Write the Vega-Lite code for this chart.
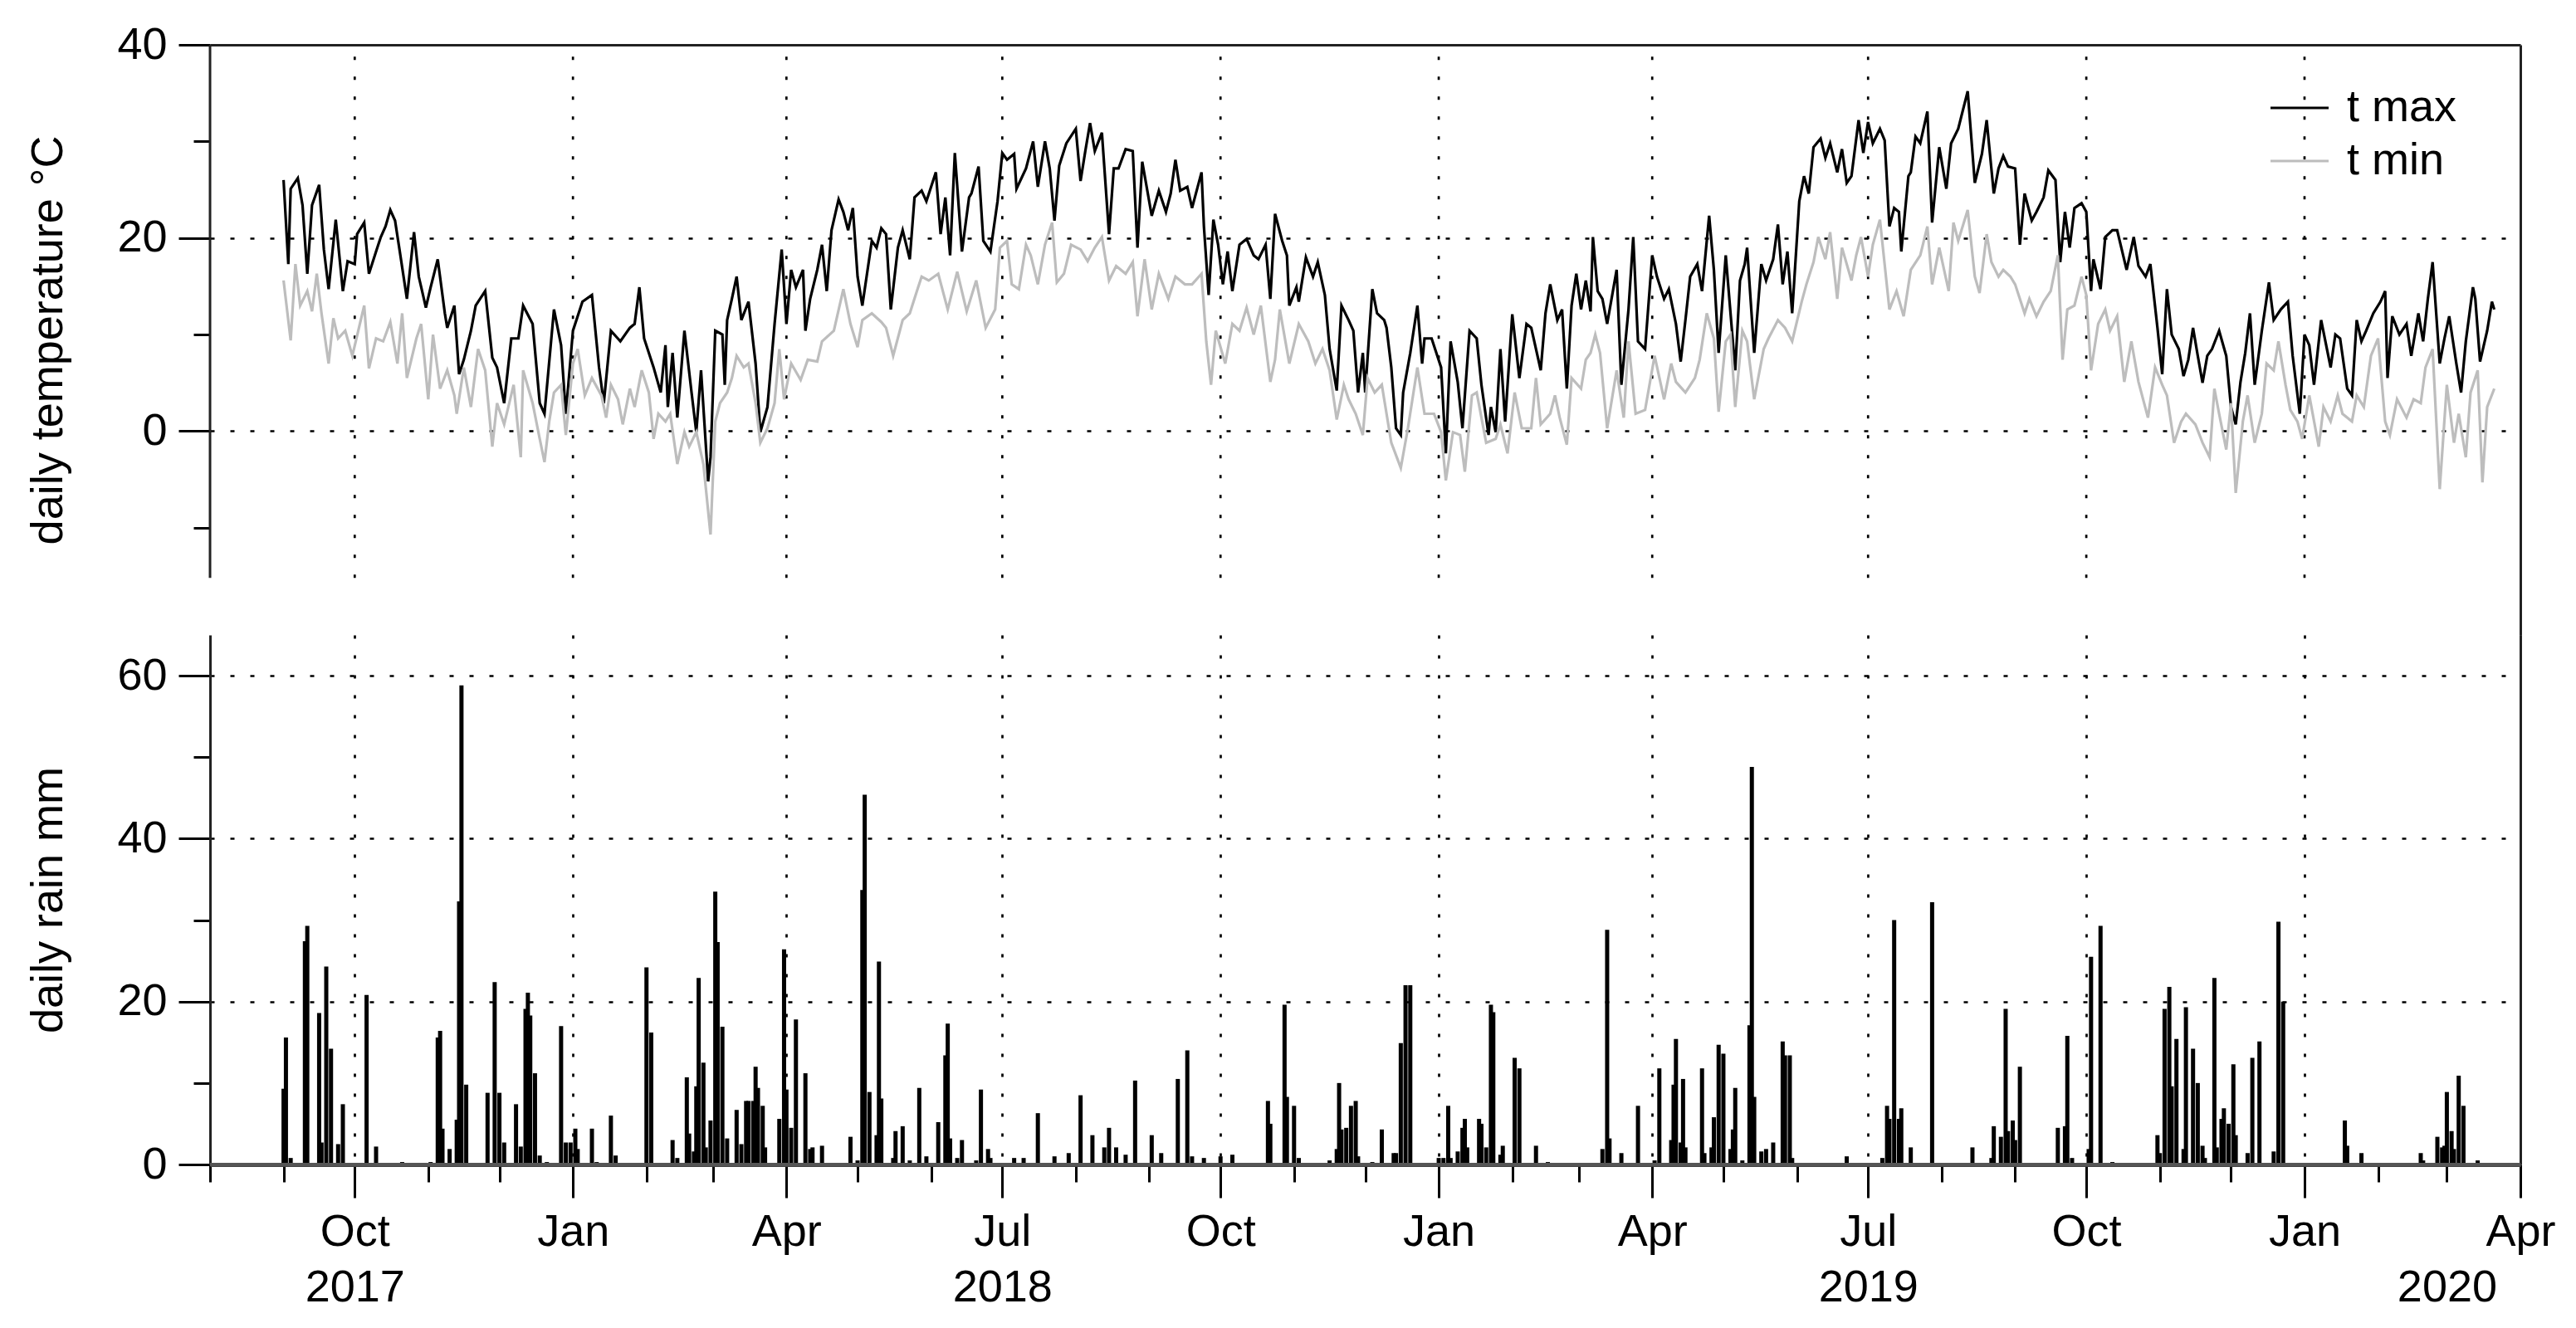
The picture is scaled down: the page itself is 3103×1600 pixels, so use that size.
{
  "$schema": "https://vega.github.io/schema/vega-lite/v6.json",
  "padding": {"left": 31, "top": 27, "right": 5, "bottom": 5},
  "config": {
    "font": "Liberation Sans",
    "view": {"stroke": null},
    "axis": {"labelFont": "Liberation Sans", "titleFont": "Liberation Sans", "labelColor": "#000", "titleColor": "#000", "titleFontWeight": "normal"}
  },
  "spacing": 0,
  "datasets": {
    "quarters": [
      {"d": "2017-10-01"}, {"d": "2018-01-01"}, {"d": "2018-04-01"}, {"d": "2018-07-01"}, {"d": "2018-10-01"},
      {"d": "2019-01-01"}, {"d": "2019-04-01"}, {"d": "2019-07-01"}, {"d": "2019-10-01"}, {"d": "2020-01-01"}
    ],
    "temps": [
      {"d":"2017-09-01","s":"t max","t":26.0},{"d":"2017-09-03","s":"t max","t":17.3},{"d":"2017-09-04","s":"t max","t":25.1},{"d":"2017-09-07","s":"t max","t":26.2},{"d":"2017-09-09","s":"t max","t":23.4},{"d":"2017-09-11","s":"t max","t":16.3},{"d":"2017-09-13","s":"t max","t":23.4},{"d":"2017-09-16","s":"t max","t":25.5},{"d":"2017-09-18","s":"t max","t":18.8},{"d":"2017-09-20","s":"t max","t":14.7},{"d":"2017-09-23","s":"t max","t":21.9},{"d":"2017-09-26","s":"t max","t":14.5},{"d":"2017-09-28","s":"t max","t":17.6},
      {"d":"2017-10-01","s":"t max","t":17.3},{"d":"2017-10-02","s":"t max","t":20.4},{"d":"2017-10-05","s":"t max","t":21.6},{"d":"2017-10-07","s":"t max","t":16.3},{"d":"2017-10-10","s":"t max","t":18.6},{"d":"2017-10-12","s":"t max","t":20.1},{"d":"2017-10-14","s":"t max","t":21.2},{"d":"2017-10-16","s":"t max","t":22.9},{"d":"2017-10-18","s":"t max","t":21.8},{"d":"2017-10-20","s":"t max","t":18.6},{"d":"2017-10-23","s":"t max","t":13.7},{"d":"2017-10-26","s":"t max","t":20.6},{"d":"2017-10-28","s":"t max","t":16.0},{"d":"2017-10-31","s":"t max","t":12.8},
      {"d":"2017-11-02","s":"t max","t":14.9},{"d":"2017-11-05","s":"t max","t":17.8},{"d":"2017-11-08","s":"t max","t":12.2},{"d":"2017-11-09","s":"t max","t":10.7},{"d":"2017-11-12","s":"t max","t":13.0},{"d":"2017-11-14","s":"t max","t":5.9},{"d":"2017-11-16","s":"t max","t":7.4},{"d":"2017-11-19","s":"t max","t":10.4},{"d":"2017-11-21","s":"t max","t":13.0},{"d":"2017-11-25","s":"t max","t":14.5},{"d":"2017-11-28","s":"t max","t":7.6},{"d":"2017-11-30","s":"t max","t":6.6},
      {"d":"2017-12-03","s":"t max","t":2.9},{"d":"2017-12-06","s":"t max","t":9.6},{"d":"2017-12-09","s":"t max","t":9.6},{"d":"2017-12-11","s":"t max","t":13.0},{"d":"2017-12-15","s":"t max","t":11.1},{"d":"2017-12-18","s":"t max","t":2.9},{"d":"2017-12-20","s":"t max","t":1.8},{"d":"2017-12-24","s":"t max","t":12.6},{"d":"2017-12-27","s":"t max","t":8.9},{"d":"2017-12-29","s":"t max","t":1.8},
      {"d":"2018-01-01","s":"t max","t":10.4},{"d":"2018-01-05","s":"t max","t":13.4},{"d":"2018-01-09","s":"t max","t":14.1},{"d":"2018-01-12","s":"t max","t":6.6},{"d":"2018-01-14","s":"t max","t":2.9},{"d":"2018-01-17","s":"t max","t":10.4},{"d":"2018-01-21","s":"t max","t":9.3},{"d":"2018-01-25","s":"t max","t":10.7},{"d":"2018-01-27","s":"t max","t":11.1},{"d":"2018-01-29","s":"t max","t":14.9},{"d":"2018-01-31","s":"t max","t":9.6},
      {"d":"2018-02-04","s":"t max","t":6.6},{"d":"2018-02-07","s":"t max","t":4.0},{"d":"2018-02-09","s":"t max","t":8.9},{"d":"2018-02-10","s":"t max","t":2.5},{"d":"2018-02-12","s":"t max","t":8.1},{"d":"2018-02-14","s":"t max","t":1.4},{"d":"2018-02-17","s":"t max","t":10.4},{"d":"2018-02-20","s":"t max","t":4.0},{"d":"2018-02-22","s":"t max","t":-0.1},{"d":"2018-02-24","s":"t max","t":6.3},{"d":"2018-02-27","s":"t max","t":-5.2},{"d":"2018-02-28","s":"t max","t":-2.7},
      {"d":"2018-03-02","s":"t max","t":10.4},{"d":"2018-03-05","s":"t max","t":10.0},{"d":"2018-03-06","s":"t max","t":4.8},{"d":"2018-03-07","s":"t max","t":11.5},{"d":"2018-03-09","s":"t max","t":13.7},{"d":"2018-03-11","s":"t max","t":16.0},{"d":"2018-03-13","s":"t max","t":11.5},{"d":"2018-03-16","s":"t max","t":13.4},{"d":"2018-03-19","s":"t max","t":7.0},{"d":"2018-03-21","s":"t max","t":-0.1},{"d":"2018-03-24","s":"t max","t":2.5},{"d":"2018-03-27","s":"t max","t":11.1},{"d":"2018-03-30","s":"t max","t":18.8},
      {"d":"2018-04-01","s":"t max","t":11.1},{"d":"2018-04-03","s":"t max","t":16.7},{"d":"2018-04-05","s":"t max","t":14.9},{"d":"2018-04-08","s":"t max","t":16.7},{"d":"2018-04-09","s":"t max","t":10.4},{"d":"2018-04-11","s":"t max","t":13.7},{"d":"2018-04-14","s":"t max","t":16.7},{"d":"2018-04-16","s":"t max","t":19.3},{"d":"2018-04-18","s":"t max","t":14.5},{"d":"2018-04-20","s":"t max","t":20.8},{"d":"2018-04-23","s":"t max","t":24.0},{"d":"2018-04-25","s":"t max","t":22.7},{"d":"2018-04-27","s":"t max","t":20.8},{"d":"2018-04-29","s":"t max","t":23.1},
      {"d":"2018-05-01","s":"t max","t":16.0},{"d":"2018-05-03","s":"t max","t":13.0},{"d":"2018-05-07","s":"t max","t":19.7},{"d":"2018-05-09","s":"t max","t":19.0},{"d":"2018-05-11","s":"t max","t":21.0},{"d":"2018-05-13","s":"t max","t":20.4},{"d":"2018-05-15","s":"t max","t":12.6},{"d":"2018-05-18","s":"t max","t":19.0},{"d":"2018-05-20","s":"t max","t":20.8},{"d":"2018-05-23","s":"t max","t":17.8},{"d":"2018-05-25","s":"t max","t":24.2},{"d":"2018-05-28","s":"t max","t":24.9},{"d":"2018-05-30","s":"t max","t":23.8},
      {"d":"2018-06-01","s":"t max","t":25.3},{"d":"2018-06-03","s":"t max","t":26.8},{"d":"2018-06-05","s":"t max","t":20.4},{"d":"2018-06-07","s":"t max","t":24.2},{"d":"2018-06-09","s":"t max","t":18.2},{"d":"2018-06-11","s":"t max","t":28.8},{"d":"2018-06-14","s":"t max","t":18.6},{"d":"2018-06-17","s":"t max","t":24.2},{"d":"2018-06-18","s":"t max","t":24.6},{"d":"2018-06-21","s":"t max","t":27.4},{"d":"2018-06-23","s":"t max","t":19.7},{"d":"2018-06-26","s":"t max","t":18.6},{"d":"2018-06-29","s":"t max","t":23.8},
      {"d":"2018-07-01","s":"t max","t":28.8},{"d":"2018-07-03","s":"t max","t":28.1},{"d":"2018-07-06","s":"t max","t":28.7},{"d":"2018-07-07","s":"t max","t":25.1},{"d":"2018-07-11","s":"t max","t":27.2},{"d":"2018-07-14","s":"t max","t":30.0},{"d":"2018-07-16","s":"t max","t":25.3},{"d":"2018-07-19","s":"t max","t":30.0},{"d":"2018-07-21","s":"t max","t":27.2},{"d":"2018-07-23","s":"t max","t":21.8},{"d":"2018-07-25","s":"t max","t":27.5},{"d":"2018-07-28","s":"t max","t":29.8},
      {"d":"2018-08-01","s":"t max","t":31.3},{"d":"2018-08-03","s":"t max","t":25.9},{"d":"2018-08-05","s":"t max","t":29.0},{"d":"2018-08-07","s":"t max","t":31.9},{"d":"2018-08-09","s":"t max","t":29.0},{"d":"2018-08-12","s":"t max","t":30.9},{"d":"2018-08-15","s":"t max","t":20.4},{"d":"2018-08-17","s":"t max","t":27.2},{"d":"2018-08-19","s":"t max","t":27.2},{"d":"2018-08-22","s":"t max","t":29.2},{"d":"2018-08-25","s":"t max","t":29.0},{"d":"2018-08-27","s":"t max","t":19.0},{"d":"2018-08-29","s":"t max","t":27.9},
      {"d":"2018-09-02","s":"t max","t":22.3},{"d":"2018-09-05","s":"t max","t":24.9},{"d":"2018-09-08","s":"t max","t":22.7},{"d":"2018-09-10","s":"t max","t":24.6},{"d":"2018-09-12","s":"t max","t":28.1},{"d":"2018-09-14","s":"t max","t":24.9},{"d":"2018-09-17","s":"t max","t":25.3},{"d":"2018-09-19","s":"t max","t":23.1},{"d":"2018-09-23","s":"t max","t":26.8},{"d":"2018-09-24","s":"t max","t":21.2},{"d":"2018-09-26","s":"t max","t":14.1},{"d":"2018-09-28","s":"t max","t":21.9},{"d":"2018-09-30","s":"t max","t":19.3},
      {"d":"2018-10-02","s":"t max","t":15.2},{"d":"2018-10-04","s":"t max","t":18.6},{"d":"2018-10-06","s":"t max","t":14.5},{"d":"2018-10-09","s":"t max","t":19.3},{"d":"2018-10-12","s":"t max","t":19.9},{"d":"2018-10-15","s":"t max","t":18.2},{"d":"2018-10-17","s":"t max","t":17.8},{"d":"2018-10-20","s":"t max","t":19.3},{"d":"2018-10-22","s":"t max","t":13.7},{"d":"2018-10-24","s":"t max","t":22.5},{"d":"2018-10-27","s":"t max","t":19.7},{"d":"2018-10-29","s":"t max","t":18.2},{"d":"2018-10-30","s":"t max","t":13.0},
      {"d":"2018-11-02","s":"t max","t":14.9},{"d":"2018-11-03","s":"t max","t":13.4},{"d":"2018-11-06","s":"t max","t":18.0},{"d":"2018-11-09","s":"t max","t":16.0},{"d":"2018-11-11","s":"t max","t":17.5},{"d":"2018-11-14","s":"t max","t":14.1},{"d":"2018-11-16","s":"t max","t":8.5},{"d":"2018-11-19","s":"t max","t":4.2},{"d":"2018-11-21","s":"t max","t":13.0},{"d":"2018-11-24","s":"t max","t":11.5},{"d":"2018-11-26","s":"t max","t":10.4},{"d":"2018-11-28","s":"t max","t":4.0},{"d":"2018-11-30","s":"t max","t":8.1},
      {"d":"2018-12-01","s":"t max","t":4.0},{"d":"2018-12-04","s":"t max","t":14.7},{"d":"2018-12-06","s":"t max","t":12.2},{"d":"2018-12-09","s":"t max","t":11.5},{"d":"2018-12-10","s":"t max","t":10.7},{"d":"2018-12-12","s":"t max","t":6.6},{"d":"2018-12-14","s":"t max","t":0.3},{"d":"2018-12-16","s":"t max","t":-0.4},{"d":"2018-12-17","s":"t max","t":4.0},{"d":"2018-12-20","s":"t max","t":8.1},{"d":"2018-12-23","s":"t max","t":13.0},{"d":"2018-12-25","s":"t max","t":7.0},{"d":"2018-12-26","s":"t max","t":9.6},{"d":"2018-12-29","s":"t max","t":9.6},{"d":"2018-12-31","s":"t max","t":8.1},
      {"d":"2019-01-02","s":"t max","t":6.6},{"d":"2019-01-04","s":"t max","t":-2.3},{"d":"2019-01-06","s":"t max","t":9.3},{"d":"2019-01-09","s":"t max","t":5.1},{"d":"2019-01-11","s":"t max","t":0.3},{"d":"2019-01-14","s":"t max","t":10.4},{"d":"2019-01-17","s":"t max","t":9.6},{"d":"2019-01-19","s":"t max","t":4.8},{"d":"2019-01-22","s":"t max","t":-0.4},{"d":"2019-01-23","s":"t max","t":2.5},{"d":"2019-01-25","s":"t max","t":-0.1},{"d":"2019-01-27","s":"t max","t":8.5},{"d":"2019-01-29","s":"t max","t":1.0},
      {"d":"2019-02-01","s":"t max","t":12.1},{"d":"2019-02-04","s":"t max","t":5.5},{"d":"2019-02-07","s":"t max","t":11.1},{"d":"2019-02-09","s":"t max","t":10.7},{"d":"2019-02-13","s":"t max","t":6.3},{"d":"2019-02-15","s":"t max","t":12.2},{"d":"2019-02-17","s":"t max","t":15.2},{"d":"2019-02-20","s":"t max","t":11.5},{"d":"2019-02-22","s":"t max","t":12.6},{"d":"2019-02-24","s":"t max","t":4.4},{"d":"2019-02-26","s":"t max","t":13.0},{"d":"2019-02-28","s":"t max","t":16.3},
      {"d":"2019-03-02","s":"t max","t":12.6},{"d":"2019-03-04","s":"t max","t":15.6},{"d":"2019-03-06","s":"t max","t":12.4},{"d":"2019-03-07","s":"t max","t":20.1},{"d":"2019-03-09","s":"t max","t":14.5},{"d":"2019-03-11","s":"t max","t":13.7},{"d":"2019-03-13","s":"t max","t":11.1},{"d":"2019-03-17","s":"t max","t":16.7},{"d":"2019-03-19","s":"t max","t":4.8},{"d":"2019-03-22","s":"t max","t":12.6},{"d":"2019-03-24","s":"t max","t":20.1},{"d":"2019-03-26","s":"t max","t":9.3},{"d":"2019-03-29","s":"t max","t":8.5},
      {"d":"2019-04-01","s":"t max","t":18.2},{"d":"2019-04-03","s":"t max","t":16.0},{"d":"2019-04-06","s":"t max","t":13.7},{"d":"2019-04-08","s":"t max","t":14.7},{"d":"2019-04-11","s":"t max","t":11.1},{"d":"2019-04-13","s":"t max","t":7.2},{"d":"2019-04-15","s":"t max","t":11.5},{"d":"2019-04-17","s":"t max","t":16.0},{"d":"2019-04-20","s":"t max","t":17.3},{"d":"2019-04-22","s":"t max","t":14.5},{"d":"2019-04-25","s":"t max","t":22.3},{"d":"2019-04-27","s":"t max","t":16.7},{"d":"2019-04-29","s":"t max","t":8.1},
      {"d":"2019-05-02","s":"t max","t":18.2},{"d":"2019-05-06","s":"t max","t":6.3},{"d":"2019-05-08","s":"t max","t":15.6},{"d":"2019-05-10","s":"t max","t":17.3},{"d":"2019-05-11","s":"t max","t":19.0},{"d":"2019-05-14","s":"t max","t":8.1},{"d":"2019-05-17","s":"t max","t":17.3},{"d":"2019-05-19","s":"t max","t":15.6},{"d":"2019-05-22","s":"t max","t":17.8},{"d":"2019-05-24","s":"t max","t":21.4},{"d":"2019-05-26","s":"t max","t":15.2},{"d":"2019-05-28","s":"t max","t":18.6},{"d":"2019-05-30","s":"t max","t":12.2},
      {"d":"2019-06-02","s":"t max","t":23.8},{"d":"2019-06-04","s":"t max","t":26.4},{"d":"2019-06-06","s":"t max","t":24.6},{"d":"2019-06-08","s":"t max","t":29.4},{"d":"2019-06-11","s":"t max","t":30.3},{"d":"2019-06-13","s":"t max","t":28.3},{"d":"2019-06-15","s":"t max","t":29.8},{"d":"2019-06-18","s":"t max","t":26.8},{"d":"2019-06-20","s":"t max","t":29.2},{"d":"2019-06-22","s":"t max","t":25.7},{"d":"2019-06-24","s":"t max","t":26.4},{"d":"2019-06-27","s":"t max","t":32.2},{"d":"2019-06-29","s":"t max","t":28.8},
      {"d":"2019-07-01","s":"t max","t":32.0},{"d":"2019-07-03","s":"t max","t":29.8},{"d":"2019-07-06","s":"t max","t":31.3},{"d":"2019-07-08","s":"t max","t":30.1},{"d":"2019-07-10","s":"t max","t":21.2},{"d":"2019-07-12","s":"t max","t":23.1},{"d":"2019-07-14","s":"t max","t":22.7},{"d":"2019-07-15","s":"t max","t":18.6},{"d":"2019-07-18","s":"t max","t":26.4},{"d":"2019-07-19","s":"t max","t":26.8},{"d":"2019-07-21","s":"t max","t":30.5},{"d":"2019-07-23","s":"t max","t":29.8},{"d":"2019-07-26","s":"t max","t":33.1},{"d":"2019-07-28","s":"t max","t":21.6},{"d":"2019-07-31","s":"t max","t":29.4},
      {"d":"2019-08-03","s":"t max","t":25.1},{"d":"2019-08-05","s":"t max","t":29.8},{"d":"2019-08-08","s":"t max","t":31.3},{"d":"2019-08-12","s":"t max","t":35.2},{"d":"2019-08-15","s":"t max","t":25.7},{"d":"2019-08-18","s":"t max","t":28.7},{"d":"2019-08-20","s":"t max","t":32.2},{"d":"2019-08-23","s":"t max","t":24.6},{"d":"2019-08-25","s":"t max","t":27.2},{"d":"2019-08-27","s":"t max","t":28.5},{"d":"2019-08-29","s":"t max","t":27.4},
      {"d":"2019-09-01","s":"t max","t":27.2},{"d":"2019-09-03","s":"t max","t":19.3},{"d":"2019-09-05","s":"t max","t":24.6},{"d":"2019-09-08","s":"t max","t":21.8},{"d":"2019-09-10","s":"t max","t":22.7},{"d":"2019-09-13","s":"t max","t":24.2},{"d":"2019-09-15","s":"t max","t":27.0},{"d":"2019-09-18","s":"t max","t":26.0},{"d":"2019-09-20","s":"t max","t":17.5},{"d":"2019-09-22","s":"t max","t":22.7},{"d":"2019-09-24","s":"t max","t":19.0},{"d":"2019-09-26","s":"t max","t":23.1},{"d":"2019-09-29","s":"t max","t":23.6},
      {"d":"2019-10-01","s":"t max","t":22.7},{"d":"2019-10-03","s":"t max","t":14.5},{"d":"2019-10-04","s":"t max","t":17.8},{"d":"2019-10-07","s":"t max","t":14.7},{"d":"2019-10-09","s":"t max","t":20.1},{"d":"2019-10-12","s":"t max","t":20.8},{"d":"2019-10-14","s":"t max","t":20.8},{"d":"2019-10-18","s":"t max","t":16.7},{"d":"2019-10-21","s":"t max","t":20.1},{"d":"2019-10-23","s":"t max","t":17.1},{"d":"2019-10-26","s":"t max","t":16.0},{"d":"2019-10-28","s":"t max","t":17.3},{"d":"2019-10-31","s":"t max","t":10.7},
      {"d":"2019-11-02","s":"t max","t":5.9},{"d":"2019-11-04","s":"t max","t":14.7},{"d":"2019-11-06","s":"t max","t":10.0},{"d":"2019-11-09","s":"t max","t":8.5},{"d":"2019-11-11","s":"t max","t":5.7},{"d":"2019-11-13","s":"t max","t":7.4},{"d":"2019-11-15","s":"t max","t":10.7},{"d":"2019-11-17","s":"t max","t":7.8},{"d":"2019-11-19","s":"t max","t":5.0},{"d":"2019-11-21","s":"t max","t":7.8},{"d":"2019-11-23","s":"t max","t":8.5},{"d":"2019-11-26","s":"t max","t":10.4},{"d":"2019-11-29","s":"t max","t":7.8},
      {"d":"2019-12-01","s":"t max","t":2.5},{"d":"2019-12-03","s":"t max","t":0.7},{"d":"2019-12-05","s":"t max","t":5.1},{"d":"2019-12-07","s":"t max","t":8.1},{"d":"2019-12-09","s":"t max","t":12.2},{"d":"2019-12-11","s":"t max","t":4.8},{"d":"2019-12-14","s":"t max","t":10.4},{"d":"2019-12-17","s":"t max","t":15.4},{"d":"2019-12-19","s":"t max","t":11.5},{"d":"2019-12-22","s":"t max","t":12.6},{"d":"2019-12-25","s":"t max","t":13.4},{"d":"2019-12-27","s":"t max","t":7.8},{"d":"2019-12-30","s":"t max","t":1.8},
      {"d":"2020-01-01","s":"t max","t":10.0},{"d":"2020-01-03","s":"t max","t":8.9},{"d":"2020-01-05","s":"t max","t":4.8},{"d":"2020-01-08","s":"t max","t":11.5},{"d":"2020-01-12","s":"t max","t":6.6},{"d":"2020-01-14","s":"t max","t":10.0},{"d":"2020-01-16","s":"t max","t":9.6},{"d":"2020-01-19","s":"t max","t":4.4},{"d":"2020-01-21","s":"t max","t":3.7},{"d":"2020-01-23","s":"t max","t":11.5},{"d":"2020-01-25","s":"t max","t":9.3},{"d":"2020-01-27","s":"t max","t":10.4},{"d":"2020-01-30","s":"t max","t":12.2},
      {"d":"2020-02-02","s":"t max","t":13.4},{"d":"2020-02-04","s":"t max","t":14.5},{"d":"2020-02-05","s":"t max","t":5.5},{"d":"2020-02-07","s":"t max","t":11.9},{"d":"2020-02-10","s":"t max","t":10.0},{"d":"2020-02-13","s":"t max","t":11.1},{"d":"2020-02-15","s":"t max","t":7.8},{"d":"2020-02-18","s":"t max","t":12.2},{"d":"2020-02-20","s":"t max","t":9.3},{"d":"2020-02-22","s":"t max","t":13.7},{"d":"2020-02-24","s":"t max","t":17.5},{"d":"2020-02-27","s":"t max","t":7.0},{"d":"2020-02-29","s":"t max","t":9.6},
      {"d":"2020-03-02","s":"t max","t":11.9},{"d":"2020-03-05","s":"t max","t":7.0},{"d":"2020-03-07","s":"t max","t":4.0},{"d":"2020-03-09","s":"t max","t":9.3},{"d":"2020-03-12","s":"t max","t":14.9},{"d":"2020-03-13","s":"t max","t":13.7},{"d":"2020-03-15","s":"t max","t":7.2},{"d":"2020-03-18","s":"t max","t":10.4},{"d":"2020-03-20","s":"t max","t":13.4},{"d":"2020-03-21","s":"t max","t":12.6},

      {"d":"2017-09-01","s":"t min","t":15.6},{"d":"2017-09-04","s":"t min","t":9.4},{"d":"2017-09-06","s":"t min","t":17.3},{"d":"2017-09-08","s":"t min","t":13.0},{"d":"2017-09-11","s":"t min","t":14.5},{"d":"2017-09-13","s":"t min","t":12.4},{"d":"2017-09-15","s":"t min","t":16.3},{"d":"2017-09-17","s":"t min","t":12.2},{"d":"2017-09-20","s":"t min","t":7.0},{"d":"2017-09-22","s":"t min","t":11.7},{"d":"2017-09-24","s":"t min","t":9.6},{"d":"2017-09-27","s":"t min","t":10.4},{"d":"2017-09-30","s":"t min","t":7.8},
      {"d":"2017-10-05","s":"t min","t":13.0},{"d":"2017-10-07","s":"t min","t":6.5},{"d":"2017-10-10","s":"t min","t":9.6},{"d":"2017-10-13","s":"t min","t":9.3},{"d":"2017-10-16","s":"t min","t":11.3},{"d":"2017-10-19","s":"t min","t":7.0},{"d":"2017-10-21","s":"t min","t":12.2},{"d":"2017-10-23","s":"t min","t":5.5},{"d":"2017-10-27","s":"t min","t":9.6},{"d":"2017-10-29","s":"t min","t":11.1},
      {"d":"2017-11-01","s":"t min","t":3.3},{"d":"2017-11-03","s":"t min","t":10.0},{"d":"2017-11-06","s":"t min","t":4.4},{"d":"2017-11-09","s":"t min","t":6.3},{"d":"2017-11-12","s":"t min","t":3.7},{"d":"2017-11-13","s":"t min","t":1.8},{"d":"2017-11-16","s":"t min","t":6.6},{"d":"2017-11-19","s":"t min","t":2.5},{"d":"2017-11-22","s":"t min","t":8.5},{"d":"2017-11-25","s":"t min","t":6.3},{"d":"2017-11-28","s":"t min","t":-1.6},{"d":"2017-11-30","s":"t min","t":2.9},
      {"d":"2017-12-03","s":"t min","t":0.7},{"d":"2017-12-07","s":"t min","t":4.8},{"d":"2017-12-10","s":"t min","t":-2.7},{"d":"2017-12-11","s":"t min","t":6.3},{"d":"2017-12-15","s":"t min","t":2.9},{"d":"2017-12-18","s":"t min","t":-0.8},{"d":"2017-12-20","s":"t min","t":-3.2},{"d":"2017-12-22","s":"t min","t":1.0},{"d":"2017-12-24","s":"t min","t":4.0},{"d":"2017-12-27","s":"t min","t":4.8},{"d":"2017-12-29","s":"t min","t":-0.4},
      {"d":"2018-01-01","s":"t min","t":7.0},{"d":"2018-01-03","s":"t min","t":8.5},{"d":"2018-01-06","s":"t min","t":3.7},{"d":"2018-01-09","s":"t min","t":5.5},{"d":"2018-01-13","s":"t min","t":3.7},{"d":"2018-01-15","s":"t min","t":1.4},{"d":"2018-01-17","s":"t min","t":4.8},{"d":"2018-01-20","s":"t min","t":3.3},{"d":"2018-01-22","s":"t min","t":0.7},{"d":"2018-01-25","s":"t min","t":4.4},{"d":"2018-01-27","s":"t min","t":2.5},{"d":"2018-01-30","s":"t min","t":6.3},
      {"d":"2018-02-02","s":"t min","t":4.0},{"d":"2018-02-04","s":"t min","t":-0.8},{"d":"2018-02-06","s":"t min","t":1.8},{"d":"2018-02-09","s":"t min","t":1.0},{"d":"2018-02-11","s":"t min","t":1.8},{"d":"2018-02-14","s":"t min","t":-3.4},{"d":"2018-02-17","s":"t min","t":-0.1},{"d":"2018-02-19","s":"t min","t":-1.6},{"d":"2018-02-22","s":"t min","t":-0.1},{"d":"2018-02-25","s":"t min","t":-3.4},{"d":"2018-02-28","s":"t min","t":-10.7},
      {"d":"2018-03-02","s":"t min","t":1.0},{"d":"2018-03-04","s":"t min","t":2.9},{"d":"2018-03-07","s":"t min","t":4.0},{"d":"2018-03-09","s":"t min","t":5.5},{"d":"2018-03-11","s":"t min","t":7.8},{"d":"2018-03-14","s":"t min","t":6.6},{"d":"2018-03-16","s":"t min","t":7.0},{"d":"2018-03-19","s":"t min","t":2.9},{"d":"2018-03-21","s":"t min","t":-1.2},{"d":"2018-03-24","s":"t min","t":0.3},{"d":"2018-03-27","s":"t min","t":2.9},{"d":"2018-03-29","s":"t min","t":8.5},{"d":"2018-03-31","s":"t min","t":3.3},
      {"d":"2018-04-03","s":"t min","t":7.0},{"d":"2018-04-07","s":"t min","t":5.3},{"d":"2018-04-10","s":"t min","t":7.4},{"d":"2018-04-14","s":"t min","t":7.2},{"d":"2018-04-16","s":"t min","t":9.3},{"d":"2018-04-21","s":"t min","t":10.4},{"d":"2018-04-25","s":"t min","t":14.7},{"d":"2018-04-28","s":"t min","t":11.1},
      {"d":"2018-05-01","s":"t min","t":8.7},{"d":"2018-05-03","s":"t min","t":11.5},{"d":"2018-05-07","s":"t min","t":12.2},{"d":"2018-05-11","s":"t min","t":11.3},{"d":"2018-05-13","s":"t min","t":10.7},{"d":"2018-05-16","s":"t min","t":7.8},{"d":"2018-05-20","s":"t min","t":11.5},{"d":"2018-05-23","s":"t min","t":12.2},{"d":"2018-05-26","s":"t min","t":14.5},{"d":"2018-05-28","s":"t min","t":16.0},{"d":"2018-05-31","s":"t min","t":15.6},
      {"d":"2018-06-04","s":"t min","t":16.3},{"d":"2018-06-08","s":"t min","t":12.6},{"d":"2018-06-12","s":"t min","t":16.5},{"d":"2018-06-16","s":"t min","t":12.4},{"d":"2018-06-20","s":"t min","t":15.6},{"d":"2018-06-24","s":"t min","t":10.7},{"d":"2018-06-28","s":"t min","t":12.6},{"d":"2018-06-30","s":"t min","t":19.0},
      {"d":"2018-07-03","s":"t min","t":19.7},{"d":"2018-07-05","s":"t min","t":15.2},{"d":"2018-07-08","s":"t min","t":14.7},{"d":"2018-07-11","s":"t min","t":19.3},{"d":"2018-07-13","s":"t min","t":18.2},{"d":"2018-07-16","s":"t min","t":15.2},{"d":"2018-07-19","s":"t min","t":19.3},{"d":"2018-07-22","s":"t min","t":21.6},{"d":"2018-07-24","s":"t min","t":15.4},{"d":"2018-07-27","s":"t min","t":16.3},{"d":"2018-07-30","s":"t min","t":19.3},
      {"d":"2018-08-03","s":"t min","t":18.8},{"d":"2018-08-06","s":"t min","t":17.6},{"d":"2018-08-09","s":"t min","t":19.0},{"d":"2018-08-12","s":"t min","t":20.1},{"d":"2018-08-15","s":"t min","t":15.6},{"d":"2018-08-18","s":"t min","t":17.1},{"d":"2018-08-22","s":"t min","t":16.3},{"d":"2018-08-25","s":"t min","t":17.5},{"d":"2018-08-27","s":"t min","t":11.9},{"d":"2018-08-30","s":"t min","t":17.8},
      {"d":"2018-09-02","s":"t min","t":12.6},{"d":"2018-09-05","s":"t min","t":16.3},{"d":"2018-09-09","s":"t min","t":13.7},{"d":"2018-09-12","s":"t min","t":16.0},{"d":"2018-09-16","s":"t min","t":15.2},{"d":"2018-09-19","s":"t min","t":15.2},{"d":"2018-09-23","s":"t min","t":16.3},{"d":"2018-09-25","s":"t min","t":9.3},{"d":"2018-09-27","s":"t min","t":4.8},{"d":"2018-09-29","s":"t min","t":10.4},
      {"d":"2018-10-03","s":"t min","t":7.0},{"d":"2018-10-06","s":"t min","t":11.1},{"d":"2018-10-09","s":"t min","t":10.4},{"d":"2018-10-12","s":"t min","t":12.8},{"d":"2018-10-15","s":"t min","t":10.0},{"d":"2018-10-18","s":"t min","t":13.0},{"d":"2018-10-22","s":"t min","t":5.1},{"d":"2018-10-24","s":"t min","t":7.4},{"d":"2018-10-26","s":"t min","t":12.6},{"d":"2018-10-30","s":"t min","t":7.0},
      {"d":"2018-11-03","s":"t min","t":11.1},{"d":"2018-11-07","s":"t min","t":9.3},{"d":"2018-11-10","s":"t min","t":7.0},{"d":"2018-11-13","s":"t min","t":8.5},{"d":"2018-11-16","s":"t min","t":6.3},{"d":"2018-11-19","s":"t min","t":1.2},{"d":"2018-11-22","s":"t min","t":4.8},{"d":"2018-11-24","s":"t min","t":3.3},{"d":"2018-11-27","s":"t min","t":1.8},{"d":"2018-11-30","s":"t min","t":-0.4},
      {"d":"2018-12-02","s":"t min","t":5.5},{"d":"2018-12-05","s":"t min","t":4.0},{"d":"2018-12-08","s":"t min","t":4.8},{"d":"2018-12-12","s":"t min","t":-1.2},{"d":"2018-12-16","s":"t min","t":-3.8},{"d":"2018-12-19","s":"t min","t":0.3},{"d":"2018-12-23","s":"t min","t":6.6},{"d":"2018-12-26","s":"t min","t":1.8},{"d":"2018-12-30","s":"t min","t":1.8},
      {"d":"2019-01-02","s":"t min","t":-0.1},{"d":"2019-01-04","s":"t min","t":-5.1},{"d":"2019-01-07","s":"t min","t":-0.1},{"d":"2019-01-10","s":"t min","t":-0.4},{"d":"2019-01-12","s":"t min","t":-4.2},{"d":"2019-01-15","s":"t min","t":3.7},{"d":"2019-01-17","s":"t min","t":4.0},{"d":"2019-01-21","s":"t min","t":-1.2},{"d":"2019-01-25","s":"t min","t":-0.8},{"d":"2019-01-27","s":"t min","t":0.7},{"d":"2019-01-30","s":"t min","t":-2.3},
      {"d":"2019-02-02","s":"t min","t":4.0},{"d":"2019-02-05","s":"t min","t":0.3},{"d":"2019-02-09","s":"t min","t":0.3},{"d":"2019-02-11","s":"t min","t":5.5},{"d":"2019-02-13","s":"t min","t":0.7},{"d":"2019-02-17","s":"t min","t":1.8},{"d":"2019-02-19","s":"t min","t":3.7},{"d":"2019-02-21","s":"t min","t":1.4},{"d":"2019-02-24","s":"t min","t":-1.4},{"d":"2019-02-26","s":"t min","t":5.5},
      {"d":"2019-03-02","s":"t min","t":4.4},{"d":"2019-03-04","s":"t min","t":7.4},{"d":"2019-03-06","s":"t min","t":8.1},{"d":"2019-03-08","s":"t min","t":10.0},{"d":"2019-03-10","s":"t min","t":8.1},{"d":"2019-03-13","s":"t min","t":0.3},{"d":"2019-03-17","s":"t min","t":6.3},{"d":"2019-03-20","s":"t min","t":1.4},{"d":"2019-03-22","s":"t min","t":9.3},{"d":"2019-03-25","s":"t min","t":1.8},{"d":"2019-03-29","s":"t min","t":2.2},
      {"d":"2019-04-02","s":"t min","t":7.8},{"d":"2019-04-06","s":"t min","t":3.3},{"d":"2019-04-09","s":"t min","t":7.0},{"d":"2019-04-11","s":"t min","t":5.1},{"d":"2019-04-15","s":"t min","t":4.0},{"d":"2019-04-19","s":"t min","t":5.5},{"d":"2019-04-21","s":"t min","t":7.4},{"d":"2019-04-24","s":"t min","t":12.2},{"d":"2019-04-27","s":"t min","t":9.6},{"d":"2019-04-29","s":"t min","t":2.0},
      {"d":"2019-05-02","s":"t min","t":9.3},{"d":"2019-05-04","s":"t min","t":10.0},{"d":"2019-05-06","s":"t min","t":2.5},{"d":"2019-05-09","s":"t min","t":10.4},{"d":"2019-05-11","s":"t min","t":9.3},{"d":"2019-05-14","s":"t min","t":3.3},{"d":"2019-05-18","s":"t min","t":8.5},{"d":"2019-05-20","s":"t min","t":9.6},{"d":"2019-05-24","s":"t min","t":11.5},{"d":"2019-05-27","s":"t min","t":10.7},{"d":"2019-05-30","s":"t min","t":9.3},
      {"d":"2019-06-03","s":"t min","t":13.4},{"d":"2019-06-05","s":"t min","t":15.2},{"d":"2019-06-08","s":"t min","t":17.5},{"d":"2019-06-10","s":"t min","t":20.1},{"d":"2019-06-13","s":"t min","t":17.8},{"d":"2019-06-15","s":"t min","t":20.6},{"d":"2019-06-18","s":"t min","t":13.7},{"d":"2019-06-20","s":"t min","t":19.0},{"d":"2019-06-24","s":"t min","t":15.6},{"d":"2019-06-26","s":"t min","t":18.2},{"d":"2019-06-28","s":"t min","t":20.1},
      {"d":"2019-07-01","s":"t min","t":16.0},{"d":"2019-07-03","s":"t min","t":19.3},{"d":"2019-07-06","s":"t min","t":21.9},{"d":"2019-07-10","s":"t min","t":12.6},{"d":"2019-07-13","s":"t min","t":14.5},{"d":"2019-07-16","s":"t min","t":11.9},{"d":"2019-07-19","s":"t min","t":16.7},{"d":"2019-07-23","s":"t min","t":18.2},{"d":"2019-07-26","s":"t min","t":21.2},{"d":"2019-07-28","s":"t min","t":15.2},{"d":"2019-07-31","s":"t min","t":19.0},
      {"d":"2019-08-04","s":"t min","t":14.5},{"d":"2019-08-06","s":"t min","t":21.6},{"d":"2019-08-08","s":"t min","t":19.7},{"d":"2019-08-12","s":"t min","t":22.9},{"d":"2019-08-15","s":"t min","t":16.0},{"d":"2019-08-17","s":"t min","t":14.3},{"d":"2019-08-20","s":"t min","t":20.4},{"d":"2019-08-22","s":"t min","t":17.5},{"d":"2019-08-25","s":"t min","t":16.0},{"d":"2019-08-27","s":"t min","t":16.7},{"d":"2019-08-30","s":"t min","t":16.0},
      {"d":"2019-09-01","s":"t min","t":15.2},{"d":"2019-09-05","s":"t min","t":12.2},{"d":"2019-09-07","s":"t min","t":13.7},{"d":"2019-09-10","s":"t min","t":11.9},{"d":"2019-09-13","s":"t min","t":13.4},{"d":"2019-09-16","s":"t min","t":14.5},{"d":"2019-09-19","s":"t min","t":18.2},{"d":"2019-09-21","s":"t min","t":7.4},{"d":"2019-09-23","s":"t min","t":12.6},{"d":"2019-09-26","s":"t min","t":13.0},{"d":"2019-09-29","s":"t min","t":16.0},
      {"d":"2019-10-01","s":"t min","t":14.1},{"d":"2019-10-03","s":"t min","t":6.3},{"d":"2019-10-06","s":"t min","t":11.1},{"d":"2019-10-09","s":"t min","t":12.6},{"d":"2019-10-11","s":"t min","t":10.4},{"d":"2019-10-14","s":"t min","t":11.9},{"d":"2019-10-17","s":"t min","t":5.1},{"d":"2019-10-20","s":"t min","t":9.3},{"d":"2019-10-23","s":"t min","t":5.1},{"d":"2019-10-27","s":"t min","t":1.4},{"d":"2019-10-30","s":"t min","t":6.6},
      {"d":"2019-11-02","s":"t min","t":4.8},{"d":"2019-11-04","s":"t min","t":3.7},{"d":"2019-11-07","s":"t min","t":-1.2},{"d":"2019-11-10","s":"t min","t":1.0},{"d":"2019-11-12","s":"t min","t":1.8},{"d":"2019-11-16","s":"t min","t":0.7},{"d":"2019-11-19","s":"t min","t":-1.2},{"d":"2019-11-22","s":"t min","t":-2.7},{"d":"2019-11-24","s":"t min","t":4.4},{"d":"2019-11-26","s":"t min","t":1.8},{"d":"2019-11-29","s":"t min","t":-1.9},
      {"d":"2019-12-01","s":"t min","t":2.9},{"d":"2019-12-03","s":"t min","t":-6.4},{"d":"2019-12-06","s":"t min","t":1.0},{"d":"2019-12-08","s":"t min","t":3.7},{"d":"2019-12-11","s":"t min","t":-1.2},{"d":"2019-12-14","s":"t min","t":1.8},{"d":"2019-12-16","s":"t min","t":7.0},{"d":"2019-12-19","s":"t min","t":6.3},{"d":"2019-12-21","s":"t min","t":9.3},{"d":"2019-12-24","s":"t min","t":4.8},{"d":"2019-12-26","s":"t min","t":2.2},{"d":"2019-12-29","s":"t min","t":1.0},{"d":"2019-12-31","s":"t min","t":-0.8},
      {"d":"2020-01-03","s":"t min","t":3.7},{"d":"2020-01-07","s":"t min","t":-1.6},{"d":"2020-01-09","s":"t min","t":2.5},{"d":"2020-01-12","s":"t min","t":1.0},{"d":"2020-01-15","s":"t min","t":3.7},{"d":"2020-01-17","s":"t min","t":1.8},{"d":"2020-01-21","s":"t min","t":1.0},{"d":"2020-01-23","s":"t min","t":3.7},{"d":"2020-01-26","s":"t min","t":2.5},{"d":"2020-01-29","s":"t min","t":7.8},
      {"d":"2020-02-01","s":"t min","t":9.6},{"d":"2020-02-04","s":"t min","t":1.0},{"d":"2020-02-06","s":"t min","t":-0.4},{"d":"2020-02-09","s":"t min","t":3.3},{"d":"2020-02-13","s":"t min","t":1.4},{"d":"2020-02-16","s":"t min","t":3.3},{"d":"2020-02-19","s":"t min","t":2.9},{"d":"2020-02-21","s":"t min","t":6.6},{"d":"2020-02-24","s":"t min","t":8.5},{"d":"2020-02-27","s":"t min","t":-6.0},
      {"d":"2020-03-01","s":"t min","t":4.8},{"d":"2020-03-04","s":"t min","t":-1.2},{"d":"2020-03-06","s":"t min","t":1.8},{"d":"2020-03-09","s":"t min","t":-2.7},{"d":"2020-03-11","s":"t min","t":4.0},{"d":"2020-03-14","s":"t min","t":6.3},{"d":"2020-03-16","s":"t min","t":-5.3},{"d":"2020-03-18","s":"t min","t":2.5},{"d":"2020-03-21","s":"t min","t":4.4}
    ],
    "rain": [
      {"d":"2017-09-01","r":9.3},{"d":"2017-09-02","r":15.6},{"d":"2017-09-04","r":0.8},{"d":"2017-09-10","r":27.4},{"d":"2017-09-11","r":29.3},{"d":"2017-09-16","r":18.6},{"d":"2017-09-17","r":2.7},{"d":"2017-09-19","r":24.3},{"d":"2017-09-21","r":14.2},{"d":"2017-09-24","r":2.5},{"d":"2017-09-26","r":7.4},
      {"d":"2017-10-06","r":20.8},{"d":"2017-10-10","r":2.2},{"d":"2017-10-21","r":0.3},
      {"d":"2017-11-02","r":0.3},{"d":"2017-11-05","r":15.6},{"d":"2017-11-06","r":16.4},{"d":"2017-11-07","r":4.4},{"d":"2017-11-10","r":1.9},{"d":"2017-11-13","r":5.5},{"d":"2017-11-14","r":32.3},{"d":"2017-11-15","r":58.8},{"d":"2017-11-17","r":9.8},{"d":"2017-11-26","r":8.8},{"d":"2017-11-29","r":22.4},
      {"d":"2017-12-01","r":8.8},{"d":"2017-12-03","r":2.7},{"d":"2017-12-08","r":7.4},{"d":"2017-12-10","r":2.2},{"d":"2017-12-12","r":19.1},{"d":"2017-12-13","r":21.1},{"d":"2017-12-14","r":18.3},{"d":"2017-12-16","r":11.2},{"d":"2017-12-18","r":1.1},{"d":"2017-12-21","r":0.3},{"d":"2017-12-27","r":17.0},{"d":"2017-12-29","r":2.7},{"d":"2017-12-31","r":2.7},
      {"d":"2018-01-02","r":4.4},{"d":"2018-01-03","r":1.9},{"d":"2018-01-09","r":4.4},{"d":"2018-01-11","r":0.3},{"d":"2018-01-17","r":6.0},{"d":"2018-01-19","r":1.1},
      {"d":"2018-02-01","r":24.2},{"d":"2018-02-03","r":16.2},{"d":"2018-02-12","r":3.0},{"d":"2018-02-14","r":0.8},{"d":"2018-02-18","r":10.7},{"d":"2018-02-19","r":3.8},{"d":"2018-02-21","r":1.6},{"d":"2018-02-22","r":9.6},{"d":"2018-02-23","r":22.9},{"d":"2018-02-25","r":12.5},{"d":"2018-02-26","r":2.1},{"d":"2018-02-28","r":5.4},
      {"d":"2018-03-02","r":33.5},{"d":"2018-03-03","r":27.3},{"d":"2018-03-05","r":16.9},{"d":"2018-03-07","r":3.2},{"d":"2018-03-11","r":6.7},{"d":"2018-03-13","r":2.5},{"d":"2018-03-15","r":7.8},{"d":"2018-03-16","r":7.8},{"d":"2018-03-18","r":7.8},{"d":"2018-03-19","r":12.0},{"d":"2018-03-20","r":9.4},{"d":"2018-03-22","r":7.2},{"d":"2018-03-23","r":2.1},{"d":"2018-03-29","r":5.6},{"d":"2018-03-31","r":26.4},
      {"d":"2018-04-01","r":9.2},{"d":"2018-04-03","r":4.5},{"d":"2018-04-05","r":17.8},{"d":"2018-04-09","r":11.2},{"d":"2018-04-11","r":1.9},{"d":"2018-04-12","r":2.1},{"d":"2018-04-16","r":2.3},{"d":"2018-04-28","r":3.4},
      {"d":"2018-05-01","r":0.5},{"d":"2018-05-03","r":33.7},{"d":"2018-05-04","r":45.4},{"d":"2018-05-06","r":8.9},{"d":"2018-05-09","r":3.6},{"d":"2018-05-10","r":24.9},{"d":"2018-05-11","r":8.1},{"d":"2018-05-16","r":0.8},{"d":"2018-05-17","r":4.1},{"d":"2018-05-20","r":4.7},{"d":"2018-05-23","r":0.5},{"d":"2018-05-27","r":9.4},{"d":"2018-05-30","r":1.0},
      {"d":"2018-06-04","r":5.2},{"d":"2018-06-07","r":13.4},{"d":"2018-06-08","r":17.3},{"d":"2018-06-09","r":3.2},{"d":"2018-06-12","r":0.8},{"d":"2018-06-14","r":3.0},{"d":"2018-06-20","r":0.5},{"d":"2018-06-22","r":9.2},{"d":"2018-06-25","r":1.9},{"d":"2018-06-26","r":0.8},
      {"d":"2018-07-06","r":0.8},{"d":"2018-07-10","r":0.8},{"d":"2018-07-16","r":6.3},{"d":"2018-07-23","r":1.0},{"d":"2018-07-29","r":1.4},
      {"d":"2018-08-03","r":8.5},{"d":"2018-08-08","r":3.6},{"d":"2018-08-13","r":2.1},{"d":"2018-08-15","r":4.5},{"d":"2018-08-18","r":2.1},{"d":"2018-08-22","r":1.2},{"d":"2018-08-26","r":10.3},
      {"d":"2018-09-02","r":3.6},{"d":"2018-09-06","r":1.4},{"d":"2018-09-13","r":10.5},{"d":"2018-09-17","r":14.0},{"d":"2018-09-19","r":1.0},{"d":"2018-09-24","r":0.8},
      {"d":"2018-10-01","r":1.0},{"d":"2018-10-06","r":1.2},{"d":"2018-10-21","r":7.8},{"d":"2018-10-22","r":5.0},{"d":"2018-10-28","r":19.6},{"d":"2018-10-29","r":8.3},
      {"d":"2018-11-01","r":7.2},{"d":"2018-11-03","r":0.8},{"d":"2018-11-16","r":0.5},{"d":"2018-11-19","r":1.9},{"d":"2018-11-20","r":10.0},{"d":"2018-11-21","r":4.3},{"d":"2018-11-23","r":4.5},{"d":"2018-11-25","r":7.2},{"d":"2018-11-27","r":7.8},{"d":"2018-11-28","r":1.0},
      {"d":"2018-12-04","r":0.3},{"d":"2018-12-08","r":4.3},{"d":"2018-12-13","r":1.4},{"d":"2018-12-14","r":1.4},{"d":"2018-12-16","r":14.9},{"d":"2018-12-18","r":22.0},{"d":"2018-12-20","r":22.0},
      {"d":"2019-01-01","r":0.8},{"d":"2019-01-03","r":0.8},{"d":"2019-01-05","r":7.2},{"d":"2019-01-06","r":0.8},{"d":"2019-01-09","r":1.6},{"d":"2019-01-11","r":4.5},{"d":"2019-01-12","r":5.6},{"d":"2019-01-13","r":2.1},{"d":"2019-01-18","r":5.6},{"d":"2019-01-19","r":5.0},{"d":"2019-01-21","r":2.1},{"d":"2019-01-23","r":19.6},{"d":"2019-01-24","r":18.7},{"d":"2019-01-27","r":1.2},{"d":"2019-01-28","r":2.3},
      {"d":"2019-02-02","r":13.1},{"d":"2019-02-04","r":11.8},{"d":"2019-02-11","r":2.3},{"d":"2019-02-16","r":0.3},
      {"d":"2019-03-11","r":1.9},{"d":"2019-03-13","r":28.8},{"d":"2019-03-14","r":3.2},{"d":"2019-03-19","r":1.4},{"d":"2019-03-26","r":7.2},
      {"d":"2019-04-02","r":0.5},{"d":"2019-04-04","r":11.8},{"d":"2019-04-09","r":3.0},{"d":"2019-04-10","r":9.8},{"d":"2019-04-11","r":15.4},{"d":"2019-04-13","r":2.7},{"d":"2019-04-14","r":10.5},{"d":"2019-04-15","r":2.1},{"d":"2019-04-22","r":11.8},{"d":"2019-04-23","r":1.4},{"d":"2019-04-26","r":2.1},{"d":"2019-04-27","r":5.8},{"d":"2019-04-29","r":14.7},
      {"d":"2019-05-01","r":13.6},{"d":"2019-05-04","r":1.9},{"d":"2019-05-05","r":4.3},{"d":"2019-05-06","r":9.4},{"d":"2019-05-09","r":0.5},{"d":"2019-05-12","r":17.1},{"d":"2019-05-13","r":48.8},{"d":"2019-05-14","r":8.3},{"d":"2019-05-17","r":1.6},{"d":"2019-05-19","r":1.9},{"d":"2019-05-22","r":2.7},{"d":"2019-05-26","r":15.1},{"d":"2019-05-27","r":13.4},{"d":"2019-05-29","r":13.4},{"d":"2019-05-30","r":0.8},
      {"d":"2019-06-22","r":1.0},
      {"d":"2019-07-07","r":0.8},{"d":"2019-07-09","r":7.2},{"d":"2019-07-10","r":5.6},{"d":"2019-07-12","r":30.0},{"d":"2019-07-14","r":5.6},{"d":"2019-07-15","r":6.9},{"d":"2019-07-19","r":2.1},{"d":"2019-07-28","r":32.2},
      {"d":"2019-08-14","r":2.1},{"d":"2019-08-22","r":0.8},{"d":"2019-08-23","r":4.7},{"d":"2019-08-26","r":3.4},{"d":"2019-08-28","r":19.1},{"d":"2019-08-29","r":4.1},{"d":"2019-08-31","r":5.4},
      {"d":"2019-09-01","r":3.0},{"d":"2019-09-03","r":12.0},{"d":"2019-09-19","r":4.5},{"d":"2019-09-22","r":4.7},{"d":"2019-09-23","r":15.8},{"d":"2019-09-25","r":0.8},
      {"d":"2019-10-02","r":1.9},{"d":"2019-10-03","r":25.5},{"d":"2019-10-07","r":29.3},{"d":"2019-10-12","r":0.3},{"d":"2019-10-31","r":3.6},
      {"d":"2019-11-01","r":1.4},{"d":"2019-11-03","r":19.1},{"d":"2019-11-05","r":21.8},{"d":"2019-11-06","r":9.6},{"d":"2019-11-08","r":15.4},{"d":"2019-11-11","r":1.9},{"d":"2019-11-12","r":19.3},{"d":"2019-11-15","r":14.2},{"d":"2019-11-17","r":10.0},{"d":"2019-11-19","r":2.3},{"d":"2019-11-20","r":0.8},{"d":"2019-11-24","r":22.9},{"d":"2019-11-25","r":2.1},{"d":"2019-11-27","r":5.6},{"d":"2019-11-28","r":6.9},{"d":"2019-11-30","r":5.0},
      {"d":"2019-12-02","r":12.3},{"d":"2019-12-03","r":3.6},{"d":"2019-12-08","r":1.4},{"d":"2019-12-10","r":13.1},{"d":"2019-12-13","r":15.1},{"d":"2019-12-19","r":1.6},{"d":"2019-12-21","r":29.8},{"d":"2019-12-23","r":20.0},
      {"d":"2020-01-18","r":5.4},{"d":"2020-01-19","r":2.3},{"d":"2020-01-25","r":1.4},
      {"d":"2020-02-19","r":1.4},{"d":"2020-02-20","r":0.5},{"d":"2020-02-26","r":3.4},{"d":"2020-02-28","r":2.1},{"d":"2020-02-29","r":2.3},
      {"d":"2020-03-01","r":8.9},{"d":"2020-03-03","r":4.1},{"d":"2020-03-04","r":1.9},{"d":"2020-03-06","r":10.9},{"d":"2020-03-08","r":7.2},{"d":"2020-03-14","r":0.5}
    ]
  },
  "vconcat": [
    {
      "width": 2783,
      "height": 711,
      "layer": [
        {
          "data": {"name": "quarters"},
          "mark": {"type": "rule", "color": "#000", "strokeWidth": 2.7, "strokeDash": [4, 20]},
          "encoding": {
            "x": {
              "field": "d", "type": "temporal",
              "scale": {"domain": [{"year": 2017, "month": 8, "date": 1}, {"year": 2020, "month": 4, "date": 1}]},
              "axis": {"orient": "top", "ticks": false, "labels": false, "grid": false, "domain": true, "domainColor": "#222", "domainWidth": 3, "title": null}
            },
            "y": {
              "datum": -15.2, "type": "quantitative",
              "scale": {"domain": [-21.1, 40], "nice": false, "zero": false},
              "axis": {
                "values": [-10, 0, 10, 20, 30, 40],
                "tickSize": {"condition": {"test": "datum.value % 20 === 0", "value": 38}, "value": 20},
                "tickColor": "#000", "tickWidth": 3,
                "labelExpr": "datum.value % 20 === 0 ? datum.label : ''",
                "labelFontSize": 54, "labelPadding": 14,
                "grid": true,
                "gridOpacity": {"condition": {"test": "datum.value === 0 || datum.value === 20", "value": 1}, "value": 0},
                "gridColor": "#000", "gridDash": [5, 19], "gridWidth": 2.7,
                "domain": false,
                "title": "daily temperature °C", "titleFontSize": 54, "titlePadding": 55
              }
            },
            "y2": {"datum": 40}
          }
        },
        {
          "data": {"values": [{}]},
          "mark": {"type": "rule", "color": "#222", "strokeWidth": 3},
          "encoding": {
            "x": {"datum": {"year": 2017, "month": 8, "date": 1}, "type": "temporal"},
            "y": {
              "datum": -15.2, "type": "quantitative",
              "axis": {"orient": "right", "ticks": false, "labels": false, "grid": false, "domain": true, "domainColor": "#222", "domainWidth": 3, "title": null}
            },
            "y2": {"datum": 40}
          }
        },
        {
          "data": {"name": "temps"},
          "mark": {"type": "line", "strokeWidth": 3.2},
          "encoding": {
            "x": {"field": "d", "type": "temporal"},
            "y": {"field": "t", "type": "quantitative", "axis": null},
            "color": {
              "field": "s", "type": "nominal",
              "scale": {"domain": ["t max", "t min"], "range": ["#000000", "#bdbdbd"]},
              "legend": {
                "orient": "none", "legendX": 2480, "legendY": 39, "title": null,
                "symbolType": "stroke", "symbolSize": 4900, "symbolStrokeWidth": 3.2,
                "labelFontSize": 54, "labelFont": "Liberation Sans", "labelColor": "#000", "labelOffset": 20,
                "rowPadding": 0, "padding": 0
              }
            }
          }
        }
      ],
      "resolve": {"axis": {"y": "independent"}}
    },
    {
      "width": 2783,
      "height": 638,
      "layer": [
        {
          "data": {"name": "rain"},
          "mark": {"type": "rule", "color": "#000", "strokeWidth": 5},
          "encoding": {
            "x": {
              "field": "d", "type": "temporal",
              "scale": {"domain": [{"year": 2017, "month": 8, "date": 1}, {"year": 2020, "month": 4, "date": 1}]},
              "axis": {
                "values": [
                  {"year": 2017, "month": 8, "date": 1}, {"year": 2017, "month": 9, "date": 1}, {"year": 2017, "month": 10, "date": 1}, {"year": 2017, "month": 11, "date": 1}, {"year": 2017, "month": 12, "date": 1},
                  {"year": 2018, "month": 1, "date": 1}, {"year": 2018, "month": 2, "date": 1}, {"year": 2018, "month": 3, "date": 1}, {"year": 2018, "month": 4, "date": 1}, {"year": 2018, "month": 5, "date": 1}, {"year": 2018, "month": 6, "date": 1},
                  {"year": 2018, "month": 7, "date": 1}, {"year": 2018, "month": 8, "date": 1}, {"year": 2018, "month": 9, "date": 1}, {"year": 2018, "month": 10, "date": 1}, {"year": 2018, "month": 11, "date": 1}, {"year": 2018, "month": 12, "date": 1},
                  {"year": 2019, "month": 1, "date": 1}, {"year": 2019, "month": 2, "date": 1}, {"year": 2019, "month": 3, "date": 1}, {"year": 2019, "month": 4, "date": 1}, {"year": 2019, "month": 5, "date": 1}, {"year": 2019, "month": 6, "date": 1},
                  {"year": 2019, "month": 7, "date": 1}, {"year": 2019, "month": 8, "date": 1}, {"year": 2019, "month": 9, "date": 1}, {"year": 2019, "month": 10, "date": 1}, {"year": 2019, "month": 11, "date": 1}, {"year": 2019, "month": 12, "date": 1},
                  {"year": 2020, "month": 1, "date": 1}, {"year": 2020, "month": 2, "date": 1}, {"year": 2020, "month": 3, "date": 1}, {"year": 2020, "month": 4, "date": 1}
                ],
                "tickSize": {"condition": {"test": "month(datum.value) % 3 === 0", "value": 40}, "value": 21},
                "tickColor": "#000", "tickWidth": 3,
                "labelPadding": {"condition": {"test": "month(datum.value) % 3 === 0", "value": 14}, "value": 100},
                "labelExpr": "month(datum.value) % 3 === 0 ? [timeFormat(datum.value, '%b'), ((year(datum.value) === 2017 && month(datum.value) === 9) || (year(datum.value) < 2020 && month(datum.value) === 6)) ? timeFormat(datum.value, '%Y') : ''] : ((year(datum.value) === 2020 && month(datum.value) === 2) ? '2020' : '')",
                "labelFontSize": 54, "labelBaseline": "top", "labelAlign": "center", "labelLineHeight": 67,
                "labelFlush": false, "labelOverlap": false,
                "grid": true,
                "gridOpacity": {"condition": {"test": "month(datum.value) % 3 === 0", "value": 1}, "value": 0},
                "gridColor": "#000", "gridDash": [4, 20], "gridWidth": 2.7,
                "domain": true, "domainColor": "#444", "domainWidth": 5,
                "title": null
              }
            },
            "y": {
              "field": "r", "type": "quantitative",
              "scale": {"domain": [0, 65], "nice": false},
              "axis": {
                "values": [0, 10, 20, 30, 40, 50, 60],
                "tickSize": {"condition": {"test": "datum.value % 20 === 0", "value": 38}, "value": 20},
                "tickColor": "#000", "tickWidth": 3,
                "labelExpr": "datum.value % 20 === 0 ? datum.label : ''",
                "labelFontSize": 54, "labelPadding": 14,
                "grid": true,
                "gridOpacity": {"condition": {"test": "datum.value > 0 && datum.value % 20 === 0", "value": 1}, "value": 0},
                "gridColor": "#000", "gridDash": [5, 19], "gridWidth": 2.7,
                "domain": true, "domainColor": "#222", "domainWidth": 3,
                "title": "daily rain mm", "titleFontSize": 54, "titlePadding": 55
              }
            },
            "y2": {"datum": 0}
          }
        },
        {
          "data": {"values": [{}]},
          "mark": {"type": "rule", "color": "#555", "strokeWidth": 4},
          "encoding": {
            "y": {
              "datum": 0, "type": "quantitative",
              "axis": {"orient": "right", "ticks": false, "labels": false, "grid": false, "domain": true, "domainColor": "#222", "domainWidth": 3, "title": null}
            }
          }
        }
      ],
      "resolve": {"axis": {"y": "independent"}}
    }
  ]
}
